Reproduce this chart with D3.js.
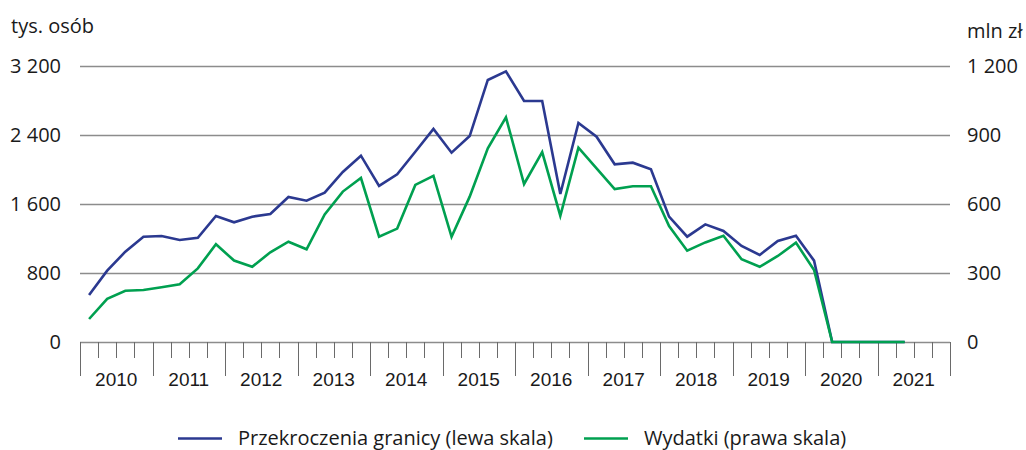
<!DOCTYPE html>
<html>
<head>
<meta charset="utf-8">
<script src="https://cdn.jsdelivr.net/npm/d3@7"></script>
<style>
  body { margin: 0; background: #fff; }
  svg { display: block; }
</style>
</head>
<body>
<div id="chart"></div>
<script>
// Years on the x axis
var years = ["2010", "2011", "2012", "2013", "2014", "2015", "2016", "2017", "2018", "2019", "2020", "2021"];
// Quarters (one slot per quarter)
var quarters = [];
years.forEach(function (y) { ["Q1", "Q2", "Q3", "Q4"].forEach(function (q) { quarters.push(y + " " + q); }); });

// Border crossings, thousands of people (left scale)
var crossings = [545, 827, 1047, 1221, 1229, 1183, 1209, 1461, 1388, 1453, 1484, 1681,
  1638, 1731, 1971, 2160, 1810, 1944, 2206, 2470, 2195, 2388, 3038, 3138,
  2794, 2794, 1716, 2540, 2380, 2060, 2079, 2002, 1453, 1221, 1364, 1287,
  1113, 1009, 1171, 1233, 943, 0, 0, 0, 0, 0];
// Expenditure, mln zl (right scale)
var spending = [100, 188, 223, 226, 238, 251, 320, 425, 354, 327, 390, 436,
  403, 555, 654, 713, 458, 493, 683, 722, 457, 632, 842, 977,
  687, 826, 549, 845, 755, 665, 677, 677, 504, 397, 433, 462,
  360, 327, 374, 432, 313, 0, 0, 0, 0, 0];

var leftTicks = [0, 800, 1600, 2400, 3200];
var rightTicks = [0, 300, 600, 900, 1200];

var W = 1026, H = 450;
var plotLeft = 80, plotRight = 950, plotTop = 66, plotBottom = 342;
var blue = "#2b3990", green = "#00a050", grid = "#8c8c8c";
var numFont = "'Open Sans', sans-serif";
var fs = "20px";

var svg = d3.select("#chart").append("svg")
  .attr("width", W)
  .attr("height", H);

var xScale = d3.scaleBand().domain(quarters).range([plotLeft, plotRight]).padding(0);
var yLeft = d3.scaleLinear().domain([0, 3200]).range([plotBottom, plotTop]);
var yRight = d3.scaleLinear().domain([0, 1200]).range([plotBottom, plotTop]);

function fmt(v) { return d3.format(",")(v).replace(/,/g, " "); }

// gridlines
svg.append("g").selectAll("line")
  .data(leftTicks)
  .enter().append("line")
  .attr("x1", plotLeft).attr("x2", plotRight)
  .attr("y1", function (d) { return yLeft(d) + 0.5; })
  .attr("y2", function (d) { return yLeft(d) + 0.5; })
  .attr("stroke", grid).attr("stroke-width", 1.3);

// left labels
svg.append("g").selectAll("text")
  .data(leftTicks)
  .enter().append("text")
  .attr("x", 61).attr("y", function (d) { return yLeft(d); })
  .attr("dy", "0.35em")
  .attr("text-anchor", "end")
  .style("font-family", numFont).style("font-size", fs).attr("fill", "#1a1a1a")
  .text(fmt);

// right labels
svg.append("g").selectAll("text")
  .data(rightTicks)
  .enter().append("text")
  .attr("x", 967).attr("y", function (d) { return yRight(d); })
  .attr("dy", "0.35em")
  .style("font-family", numFont).style("font-size", fs).attr("fill", "#1a1a1a")
  .text(fmt);

// axis titles
svg.append("text").attr("x", 11).attr("y", 33)
  .style("font-family", numFont).style("font-size", fs).attr("fill", "#1a1a1a")
  .text("tys. osób");
svg.append("text").attr("x", 967).attr("y", 38)
  .style("font-family", numFont).style("font-size", fs).attr("fill", "#1a1a1a")
  .text("mln zł");

// x ticks: short at quarters, long at years
var tickG = svg.append("g").attr("stroke", "#6a6a6a").attr("stroke-width", 1);
tickG.selectAll("line")
  .data(quarters)
  .enter().append("line")
  .attr("x1", function (d) { return Math.round(xScale(d)) + 0.5; })
  .attr("x2", function (d) { return Math.round(xScale(d)) + 0.5; })
  .attr("y1", plotBottom)
  .attr("y2", function (d) { return d.slice(-2) === "Q1" ? 376 : 358; });
tickG.append("line")
  .attr("x1", plotRight + 0.5).attr("x2", plotRight + 0.5)
  .attr("y1", plotBottom).attr("y2", 376);

// year labels
svg.append("g").selectAll("text")
  .data(years)
  .enter().append("text")
  .attr("x", function (d) { return xScale(d + " Q1") + xScale.bandwidth() * 2; })
  .attr("y", 386)
  .attr("text-anchor", "middle")
  .style("font-family", "'Liberation Sans', Arial, sans-serif").style("font-size", "19px").attr("fill", "#1a1a1a")
  .text(function (d) { return d; });

function cx(i) { return xScale(quarters[i]) + xScale.bandwidth() / 2; }

var lineLeft = d3.line()
  .x(function (d, i) { return cx(i); })
  .y(function (d) { return yLeft(d); });
var lineRight = d3.line()
  .x(function (d, i) { return cx(i); })
  .y(function (d) { return yRight(d); });

svg.append("path").datum(crossings)
  .attr("fill", "none").attr("stroke", blue).attr("stroke-width", 2.6)
  .attr("stroke-linejoin", "miter")
  .attr("d", lineLeft);

svg.append("path").datum(spending)
  .attr("fill", "none").attr("stroke", green).attr("stroke-width", 2.6)
  .attr("stroke-linejoin", "miter")
  .attr("d", lineRight);

// legend
var legend = [
  { label: "Przekroczenia granicy (lewa skala)", color: blue, x: 178 },
  { label: "Wydatki (prawa skala)", color: green, x: 584 }
];
var lg = svg.append("g").selectAll("g").data(legend).enter().append("g");
lg.append("line")
  .attr("x1", function (d) { return d.x; }).attr("x2", function (d) { return d.x + 44; })
  .attr("y1", 438.5).attr("y2", 438.5)
  .attr("stroke", function (d) { return d.color; }).attr("stroke-width", 2.6);
lg.append("text")
  .attr("x", function (d) { return d.x + 60; }).attr("y", 438)
  .attr("dy", "0.35em")
  .style("font-family", numFont).style("font-size", fs).attr("fill", "#1a1a1a")
  .text(function (d) { return d.label; });
</script>
</body>
</html>
